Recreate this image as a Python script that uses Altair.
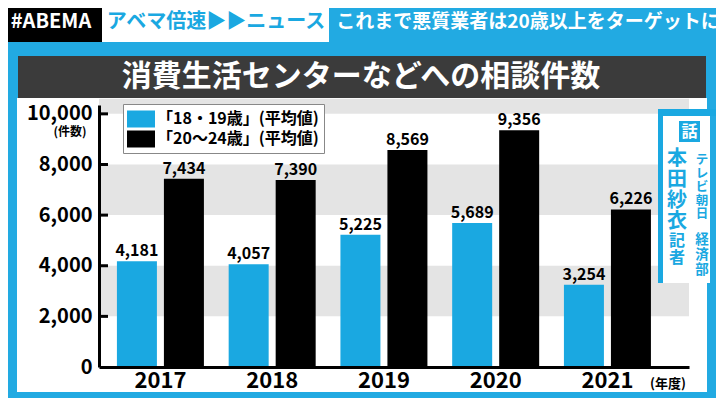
import altair as alt
import pandas as pd

# ---- data ----
years = ["2017", "2018", "2019", "2020", "2021"]
series = ["「18・19歳」(平均値)", "「20〜24歳」(平均値)"]
teen = [4181, 4057, 5225, 5689, 3254]
young = [7434, 7390, 8569, 9356, 6226]
y_ticks = [0, 2000, 4000, 6000, 8000, 10000]
band_lo = [2000, 6000, 10000]
band_hi = [4000, 8000, 10600]

FONT = "Noto Sans CJK JP"
BLUE = "#1AA8E1"
BG = "#22AAE2"
W, H = 590, 262

rows = []
for i, yr in enumerate(years):
    rows.append({"year": yr, "group": series[0], "value": teen[i]})
    rows.append({"year": yr, "group": series[1], "value": young[i]})
df = pd.DataFrame(rows)
bands = pd.DataFrame({"value": band_lo, "value2": band_hi})
ticks = pd.DataFrame({"value": y_ticks[1:]})
one = pd.DataFrame({"k": [0]})


def box(x, x2, y, y2, color):
    return alt.Chart(one).mark_rect(color=color).encode(
        x=alt.value(x), x2=alt.value(x2), y=alt.value(y), y2=alt.value(y2))


def label(x, y, text, size, color="black", **kw):
    return alt.Chart(one).mark_text(text=text, font=FONT, fontSize=size, color=color,
                                    fontWeight="bold", **kw).encode(
        x=alt.value(x), y=alt.value(y))


Y = alt.Y("value:Q",
          scale=alt.Scale(domain=[0, 10350], nice=False, zero=True),
          axis=alt.Axis(values=y_ticks, labelExpr="format(datum.value, ',')", title=None,
                        grid=False, ticks=False,
                        domainColor="black", domainWidth=3, labelPadding=7,
                        labelFont=FONT, labelFontSize=20, labelFontWeight="bold",
                        labelColor="black", zindex=1))
X = alt.X("year:N",
          scale=alt.Scale(domain=years, paddingInner=0.2215, paddingOuter=0.2505, align=0.32),
          axis=alt.Axis(title=None, labelAngle=0, ticks=False, grid=False,
                        domainColor="black", domainWidth=3, labelPadding=3,
                        labelFont=FONT, labelFontSize=22, labelFontWeight="bold",
                        labelColor="black", zindex=1))
XO = alt.XOffset("group:N", scale=alt.Scale(domain=series, paddingInner=0.149, paddingOuter=0))

band_layer = alt.Chart(bands).mark_rect(color="#E4E4E4").encode(
    x=alt.value(0), x2=alt.value(W), y=Y, y2="value2:Q")
tick_layer = alt.Chart(ticks).mark_rule(color="black", strokeWidth=3).encode(
    x=alt.value(0), x2=alt.value(9), y=Y)

bars = alt.Chart(df).mark_bar().encode(
    x=X, xOffset=XO, y=Y,
    color=alt.Color("group:N", scale=alt.Scale(domain=series, range=[BLUE, "black"]),
                    legend=alt.Legend(orient="none", legendX=24, legendY=-1, title=None,
                                      symbolType="M-1.4,-0.85H1.4V0.85H-1.4Z",
                                      symbolSize=400, symbolStrokeWidth=0, symbolOffset=3,
                                      symbolOpacity=1,
                                      labelFont=FONT, labelFontSize=16, labelFontWeight="bold",
                                      labelColor="black", labelOffset=6, labelLimit=300,
                                      fillColor="white", strokeColor="#888888",
                                      padding=5, rowPadding=1)))
values = alt.Chart(df).mark_text(baseline="bottom", dy=-2, font=FONT, fontSize=16,
                                 fontWeight="bold", color="black").encode(
    x=X, xOffset=XO, y=Y, text=alt.Text("value:Q", format=","))

layers = [
    box(-82, 608, -7, 287, "white"),           # white panel
    box(-81, 607, -49, -7, "#3B3B3B"),         # title bar
    box(-105, 3, -105, -63, "black"),          # banner logo box
    box(3, 230, -105, -63, "white"),           # banner program box
    band_layer,
    tick_layer,
    bars,
    values,
    box(559, 625, 4, 11, BLUE),                # reporter frame top
    box(559, 564, 4, 178, BLUE),               # reporter frame left
    box(564, 611, 11, 178, "white"),           # reporter interior
    box(580, 601, 16, 37, BLUE),               # 話 box
    label(590.5, 27, "話", 16, "white"),
    label(578, 54, ["本", "田", "紗", "衣"], 20, BLUE, lineHeight=21),
    label(578, 136, ["記", "者"], 16, BLUE, lineHeight=17),
    label(603, 55, ["テ", "レ", "ビ", "朝", "日"], 12.5, BLUE, lineHeight=13.6),
    label(603, 135, ["経", "済", "部"], 13.5, BLUE, lineHeight=15),
    label(-48, -83, "#ABEMA", 20, "white"),
    label(117, -83, "アベマ倍速▶▶ニュース", 20, BLUE),
    label(429, -83, "これまで悪質業者は20歳以上をターゲットに", 19, "white"),
    label(262, -28, "消費生活センターなどへの相談件数", 30, "white"),
    label(-29, 27, "(件数)", 12),
    label(569, 279, "(年度)", 13),
]

chart = alt.layer(*layers).properties(
    width=W, height=H,
    padding={"left": 91, "top": 97, "right": 27, "bottom": 31},
    autosize=alt.AutoSizeParams(type="none"),
    background=BG,
).configure_view(stroke=None)

chart.save("out.html", embed_options={"renderer": "svg", "actions": False})
